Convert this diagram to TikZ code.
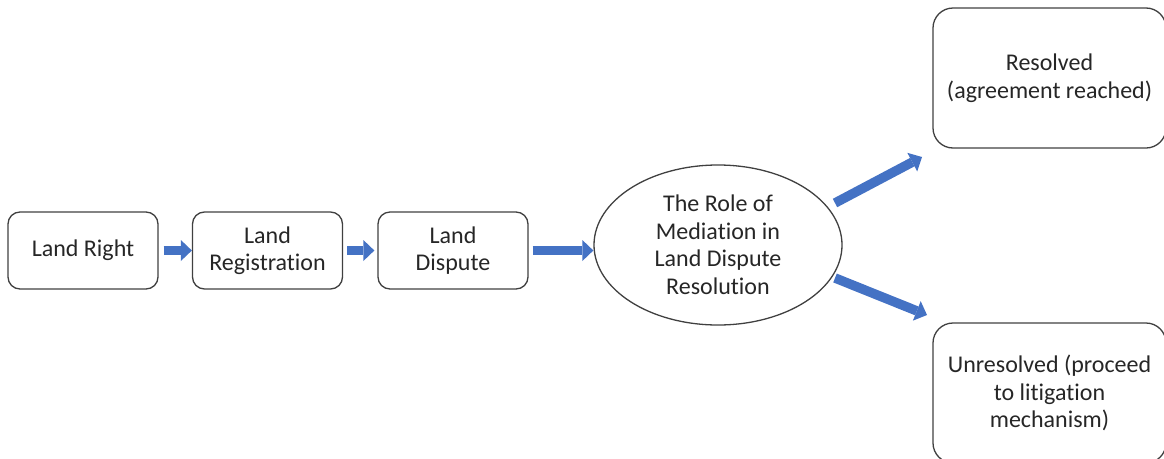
\documentclass[tikz,border=0pt]{standalone}
\usepackage{fontspec}
\setmainfont{Carlito}[Ligatures=NoCommon]
\usetikzlibrary{shapes.geometric,arrows.meta}
\definecolor{arrowblue}{HTML}{4472C4}
\definecolor{boxline}{HTML}{404040}

\begin{document}
\begin{tikzpicture}[x=1pt,y=-1pt,
    every node/.style={font=\fontsize{24}{27.5}\selectfont, text=black!85, align=center},
    box/.style={draw=boxline, line width=1.3pt, rounded corners=12pt, minimum width=150pt, minimum height=77pt},
    bigbox/.style={box, rounded corners=20pt, minimum width=233pt, minimum height=140pt},
    blockarrow/.style={draw=arrowblue, line width=9.5pt, -{Triangle[length=11pt,width=21pt,line width=0pt]}}]
  \clip (0,0) rectangle (1164,458);
  \node[box] (A) at (83,250.5) {Land Right};
  \node[box] (B) at (267.5,250.5) {Land\\Registration};
  \node[box] (C) at (453,250.5) {Land\\Dispute};
  \node[draw=boxline, line width=1.3pt, ellipse, inner sep=0pt, minimum width=248pt, minimum height=160pt] (M) at (718,245) {The Role of\\Mediation in\\Land Dispute\\Resolution};
  \node[bigbox] (R) at (1049.5,78) {Resolved\\(agreement reached)};
  \node[bigbox] (U) at (1049.5,393) {Unresolved (proceed\\to litigation\\mechanism)};
  % free ends of the two outlet arrows
  \coordinate (R0) at (835,203);
  \coordinate (R1) at (922,157);
  \coordinate (U0) at (835,278);
  \coordinate (U1) at (927,315);
  \draw[blockarrow, shorten <=5pt] (A) -- (B);
  \draw[blockarrow, shorten <=4pt, shorten >=3pt] (B) -- (C);
  \draw[blockarrow, shorten <=4pt] (C.east) -- (C.east -| M.west);
  \draw[blockarrow] (R0) -- (R1);
  \draw[blockarrow] (U0) -- (U1);
\end{tikzpicture}
\end{document}
